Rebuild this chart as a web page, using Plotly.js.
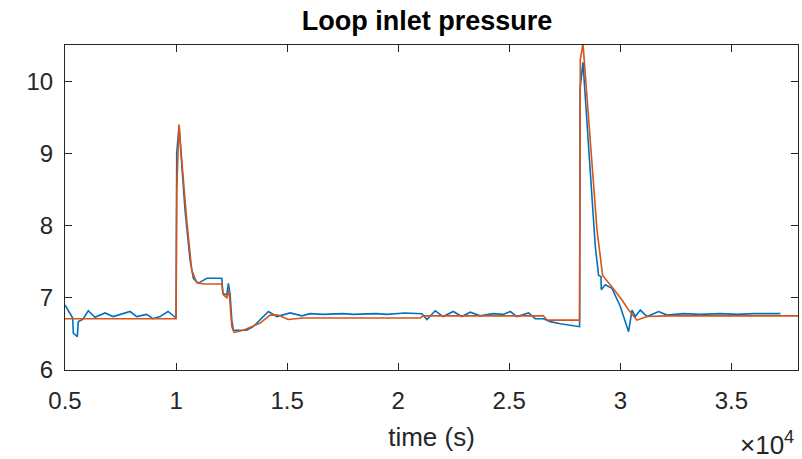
<!DOCTYPE html>
<html>
<head>
<meta charset="utf-8">
<script src="https://cdn.plot.ly/plotly-3.0.1.min.js"></script>
<style>html,body{margin:0;padding:0;background:#fff;}#chart{width:802px;height:459px;}</style>
</head>
<body>
<div id="chart"></div>
<script>
// Measured (blue) series
const measuredTime = [5000,5347,5374,5554,5599,5800,6050,6351,6802,7162,7500,7928,8230,8680,8964,9279,9640,9955,10000,
  10030,10135,10212,10405,10631,10779,10991,11383,12059,12104,12284,12356,12432,12509,12581,13185,13468,14158,14536,15135,15662,16036,16622,
  17500,18000,19000,19500,20300,21068,21293,21667,22027,22477,22870,23243,23694,24279,24730,25045,25347,25869,26171,26532,26847,27297,27748,28167,
  28190,28320,28423,28572,28725,28874,29023,29131,29144,29324,29626,30000,30374,30527,30676,30901,31203,31725,32104,32851,33600,34500,35300,36000,37207];
const measuredP = [6.90,6.72,6.51,6.46,6.67,6.70,6.82,6.73,6.79,6.74,6.77,6.81,6.74,6.77,6.71,6.74,6.81,6.74,6.72,
  9.00,9.38,9.04,8.21,7.52,7.27,7.20,7.27,7.27,7.06,7.04,7.20,7.05,6.69,6.55,6.55,6.60,6.81,6.74,6.79,6.75,6.78,6.77,
  6.78,6.77,6.78,6.77,6.79,6.78,6.70,6.82,6.74,6.81,6.74,6.80,6.75,6.78,6.77,6.81,6.74,6.79,6.71,6.71,6.67,6.64,6.62,6.60,
  9.90,10.26,9.78,9.09,8.40,7.71,7.31,7.29,7.11,7.18,7.13,6.88,6.53,6.83,6.74,6.83,6.74,6.81,6.76,6.78,6.77,6.78,6.77,6.78,6.78];

// Simulated (orange) series
const simTime = [5000,10000,10032,10135,10257,10482,10707,10932,11230,12059,12131,12284,12387,12509,12613,13032,13784,14234,14595,15045,15721,
  20991,21126,26532,26712,28167,28200,28320,28500,28725,28951,29099,29203,29626,29850,30077,30374,30752,31203,32104,38000];
const simP = [6.71,6.71,8.50,9.40,8.90,8.07,7.38,7.21,7.19,7.19,7.04,7.00,7.10,6.60,6.52,6.55,6.65,6.76,6.76,6.70,6.72,
  6.72,6.75,6.75,6.69,6.69,10.30,10.52,9.78,8.86,7.94,7.57,7.31,7.15,7.06,6.97,6.83,6.69,6.74,6.75,6.75];

const xTickVals = [5000,10000,15000,20000,25000,30000,35000];
const xTickText = ['0.5','1','1.5','2','2.5','3','3.5'];
const yTickVals = [6,7,8,9,10];

const FONT = 'Liberation Sans, Arial, sans-serif';
const axisCommon = {
  showline: true, linecolor: '#262626', linewidth: 1, mirror: 'ticks',
  ticks: 'inside', ticklen: 7, tickcolor: '#262626', tickwidth: 1,
  showgrid: false, zeroline: false,
  tickfont: {family: FONT, size: 24, color: '#262626'}
};

Plotly.newPlot('chart', [
  {x: measuredTime, y: measuredP, type: 'scatter', mode: 'lines', line: {color: '#0072BD', width: 1.6}, showlegend: false},
  {x: simTime, y: simP, type: 'scatter', mode: 'lines', line: {color: '#D95319', width: 1.6}, showlegend: false}
], {
  width: 802, height: 459,
  margin: {l: 65, r: 4, t: 45, b: 89},
  paper_bgcolor: '#fff', plot_bgcolor: '#fff',
  title: {text: '<b>Loop inlet pressure</b>', xref: 'paper', x: 0.494, xanchor: 'center', y: 0.955, yanchor: 'middle',
          font: {family: FONT, size: 27, color: '#000'}},
  xaxis: Object.assign({}, axisCommon, {range: [5000, 38000], tickvals: xTickVals, ticktext: xTickText,
          ticklabelstandoff: 9,
          title: {text: 'time (s)', standoff: 15, font: {family: FONT, size: 26, color: '#262626'}}}),
  yaxis: Object.assign({}, axisCommon, {range: [6, 10.5], tickvals: yTickVals, ticklabelstandoff: 6}),
  annotations: [{text: '×10<sup>4</sup>', xref: 'paper', yref: 'paper', x: 0.997, y: -0.225, xanchor: 'right', yanchor: 'middle',
                 showarrow: false, font: {family: FONT, size: 26, color: '#262626'}}]
}, {displayModeBar: false, staticPlot: true});
</script>
</body>
</html>
